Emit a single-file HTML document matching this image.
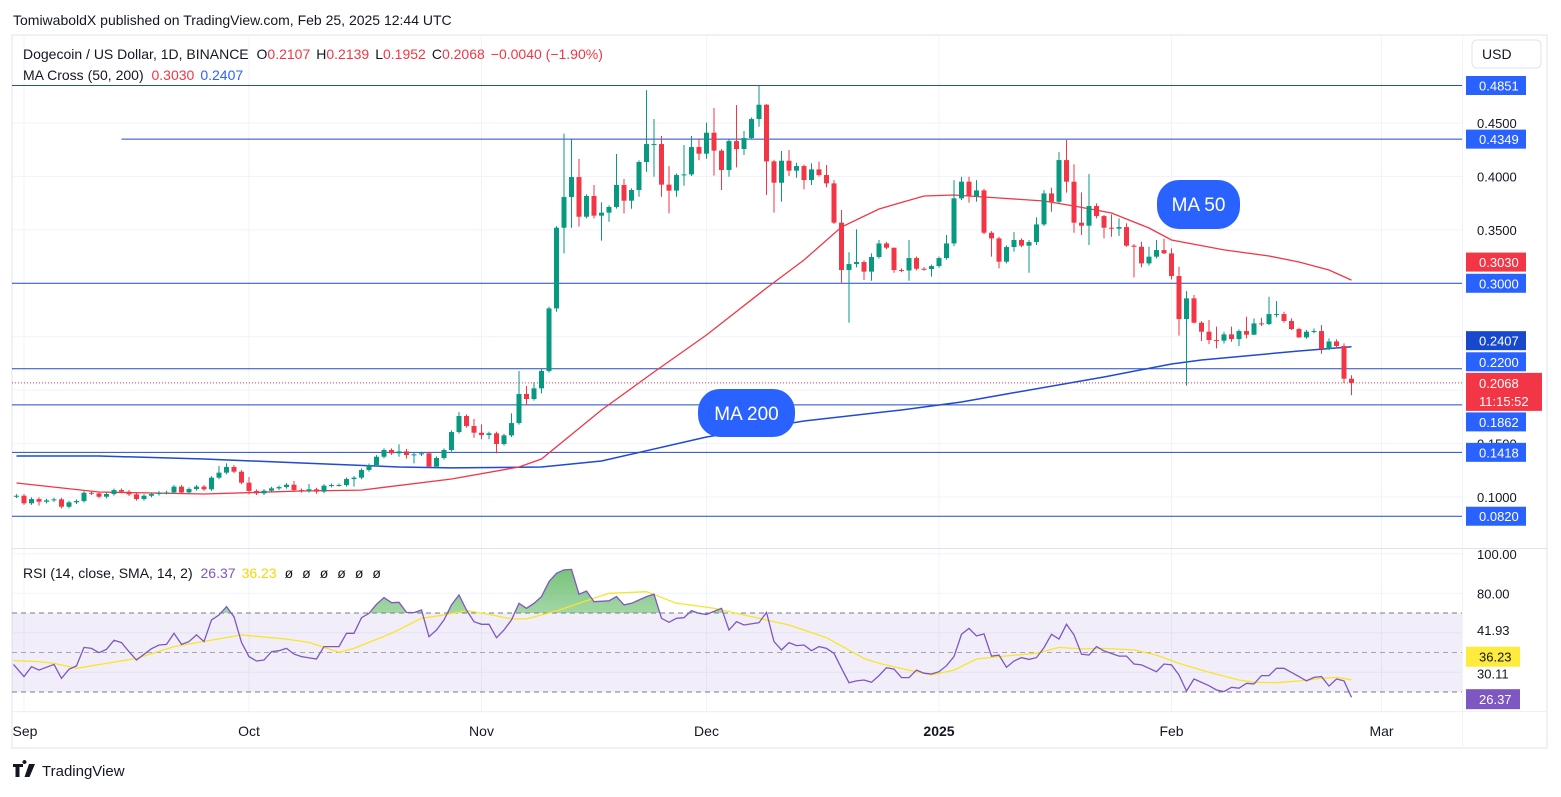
<!DOCTYPE html>
<html><head><meta charset="utf-8"><title>DOGEUSD TradingView chart</title>
<style>
html,body{margin:0;padding:0;background:#fff;}
body{width:1561px;height:792px;overflow:hidden;font-family:"Liberation Sans",sans-serif;}
svg text{font-family:"Liberation Sans","DejaVu Sans",sans-serif;}
</style></head>
<body>
<svg id="chart" width="1561" height="792" viewBox="0 0 1561 792" xmlns="http://www.w3.org/2000/svg">
  <defs>
    <clipPath id="mainClip"><rect x="12" y="36" width="1450" height="512"/></clipPath>
    <clipPath id="rsiClip"><rect x="12" y="549" width="1450" height="162"/></clipPath>
    <clipPath id="obClip"><rect x="12" y="549" width="1450" height="64"/></clipPath>
    <linearGradient id="obGrad" x1="0" y1="0" x2="0" y2="1">
      <stop offset="0" stop-color="#4caf50" stop-opacity="0.75"/>
      <stop offset="1" stop-color="#4caf50" stop-opacity="0.05"/>
    </linearGradient>
  </defs>
  <text x="13" y="25" font-size="14" fill="#131722">TomiwaboldX published on TradingView.com, Feb 25, 2025 12:44 UTC</text>
  <rect x="12" y="35" width="1535" height="713" fill="none" stroke="#e0e3eb" stroke-width="1"/>
  <g id="grid"></g>
  <g id="rsiBand"></g>
  <g id="hlines"></g>
  <g id="maLines" clip-path="url(#mainClip)"></g>
  <g id="candles" clip-path="url(#mainClip)"></g>
  <g id="rsiLines" clip-path="url(#rsiClip)"></g>
  <g id="axes"></g>

  <line x1="12" y1="548.5" x2="1547" y2="548.5" stroke="#e0e3eb"/>
  <line x1="12" y1="711.5" x2="1547" y2="711.5" stroke="#eef0f4"/>
  <line x1="1462.5" y1="35" x2="1462.5" y2="748" stroke="#f0f3fa"/>

  <text x="23" y="59" font-size="14" fill="#131722">Dogecoin / US Dollar, 1D, BINANCE <tspan dx="4">O</tspan><tspan fill="#f23645">0.2107</tspan><tspan dx="6">H</tspan><tspan fill="#f23645">0.2139</tspan><tspan dx="6">L</tspan><tspan fill="#f23645">0.1952</tspan><tspan dx="6">C</tspan><tspan fill="#f23645">0.2068</tspan><tspan dx="6" fill="#f23645">−0.0040 (−1.90%)</tspan></text>
  <text x="23" y="80" font-size="14" fill="#131722">MA Cross (50, 200) <tspan dx="4" fill="#f23645">0.3030</tspan><tspan dx="6" fill="#2962ff">0.2407</tspan></text>
  <text x="23" y="578" font-size="14" fill="#131722">RSI (14, close, SMA, 14, 2) <tspan dx="4" fill="#7e57c2">26.37</tspan><tspan dx="6" fill="#f5d800">36.23</tspan><tspan dx="8">ø</tspan><tspan dx="9">ø</tspan><tspan dx="9">ø</tspan><tspan dx="9">ø</tspan><tspan dx="9">ø</tspan><tspan dx="9">ø</tspan></text>

  <g>
    <rect x="1472" y="40" width="69" height="28" rx="5" fill="#fff" stroke="#e0e3eb"/>
    <text x="1482" y="59" font-size="14" fill="#131722">USD</text>
  </g>

  <g>
    <rect x="1157" y="180" width="83" height="49" rx="22" fill="#2962ff"/>
    <text x="1198.5" y="211" font-size="19" fill="#fff" text-anchor="middle">MA 50</text>
  </g>
  <g>
    <rect x="698" y="389" width="97" height="48" rx="22" fill="#2962ff"/>
    <text x="746.5" y="420" font-size="19" fill="#fff" text-anchor="middle">MA 200</text>
  </g>

  <g>
    <path d="M13 764 h10 v3 h-3.5 v10 h-4 v-10 h-2.5z M24.5 764 a2 2 0 1 1 0.01 0z M29 764 h6 l-5.5 13 h-5z" fill="#131722"/>
    <text x="42" y="776" font-size="15" fill="#131722">TradingView</text>
  </g>
</svg>
<script>
// ---------- data ----------
const firstDay = -1; // Aug 31, 2024 (day 0 = Sep 1)
const closes = [
.1012,.0941,.0981,.0956,.0969,.0978,.0909,.0950,.0962,.1040,
.1034,.1003,.1028,.1065,.1050,.1025,.0981,.1012,.1028,.1040,
.1043,.1097,.1043,.1075,.1097,.1072,.1181,.1228,.1281,.1237,
.1134,.1056,.1034,.1059,.1081,.1093,.1115,.1065,.1056,.1072,
.1050,.1106,.1112,.1112,.1168,.1181,.1253,.1299,.1377,.1440,
.1409,.1427,.1393,.1399,.1409,.1284,.1365,.1440,.1608,.1758,
.1664,.1602,.1580,.1596,.1496,.1577,.1692,.1964,.1917,.2017,
.2179,.2765,
.3520,.3807,.3994,.3623,.3817,.3633,.3661,.3714,.3920,.3773,
.3873,.4135,.4303,.4303,.3923,.3867,.4013,.4019,.4275,.4213,
.4409,.4241,.4060,.4331,.4256,.4359,.4537,.4671,.4141,.3941,
.4147,.4054,.4097,.3966,.4066,.4013,.3935,.3567,.3124,.3180,
.3199,.3109,.3246,
.3373,.3333,.3124,.3120,.3236,.3136,.3133,.3161,.3236,.3373,
.3795,.3951,.3816,.3869,.3473,.3420,.3202,.3339,.3405,.3352,
.3386,.3551,.3841,.3763,.4153,.3951,.3567,.3539,.3723,.3629,
.3520,.3511,.3526,.3352,.3342,.3186,.3249,.3311,.3280,.3068,
.2665,.2859,.2631,.2547,.2469,.2463,.2522,.2478,.2553,.2519,
.2625,.2619,.2712,.2712,.2647,.2572,.2494,.2547,.2553,.2385,
.2456,.2413,.2107,.2068];
const firstOpen = .1005;
const hiDays = [26,27,28,30,36,38,50,51,58,60,61,65,66,67,68,69,72,73,74,76,77,79,80,83,84,85,86,88,89,90,91,92,95,96,98,99,101,102,103,105,106,107,108,109,110,111,113,114,116,118,123,124,125,126,127,132,133,134,135,136,137,138,139,140,141,142,143,144,145,146,147,149,150,151,152,153,154,155,156,158,159,160,161,162,163,164,165,166,167,168,169,170,171,172,173,174,175,176,177];
const hiVals = [.1290,.1315,.1299,.1187,.1150,.1122,.1493,.1450,.1795,.1730,.1680,.1783,.2179,.2039,.2073,.2204,.4400,.4347,.4163,.3920,.3757,.4210,.3976,.4808,.4537,.4378,.4097,.4294,.4378,.4356,.4503,.4640,.4668,.4425,.4849,.4677,.4238,.4247,.4128,.4122,.4138,.4107,.3966,.3686,.3290,.3505,.3280,.3405,.3239,.3405,.3452,.3966,.3997,.3997,.3966,.3479,.3420,.3405,.3617,.3872,.3894,.4228,.4340,.4113,.3851,.4022,.3748,.3639,.3645,.3607,.3561,.3389,.3342,.3405,.3417,.3327,.3155,.2927,.2890,.2656,.2594,.2547,.2594,.2569,.2687,.2672,.2678,.2874,.2834,.2734,.2672,.2584,.2563,.2578,.2609,.2484,.2475,.2438,.2139];
const loDays = [2,5,30,32,39,44,50,51,52,54,60,61,62,63,67,69,71,72,73,74,76,77,78,80,81,82,83,84,85,86,87,88,90,91,92,93,94,95,96,98,99,100,101,102,103,104,105,107,108,109,110,111,112,113,116,118,121,124,126,127,129,130,131,132,134,135,137,138,139,140,141,142,143,144,145,146,147,148,149,150,151,152,153,154,155,156,157,158,159,160,161,162,163,164,165,166,167,168,169,170,171,172,173,174,175,176,177];
const loVals = [.0919,.0894,.1025,.1019,.1030,.1097,.1377,.1359,.1315,.1275,.1555,.1540,.1540,.1408,.1861,.1970,.2734,.3280,.3520,.3530,.3608,.3399,.3576,.3654,.3698,.3810,.4044,.3997,.3810,.3654,.3810,.3913,.4153,.4166,.4007,.3873,.3997,.4085,.4200,.4465,.3826,.3661,.3764,.4004,.3988,.3879,.3920,.3898,.3555,.2999,.2631,.3149,.3031,.3024,.3099,.3024,.3062,.3348,.3754,.3763,.3249,.3140,.3186,.3296,.3099,.3358,.3670,.3748,.3848,.3473,.3452,.3358,.3607,.3420,.3436,.3442,.3342,.3055,.3149,.3165,.3233,.3274,.3037,.2510,.2042,.2625,.2460,.2431,.2391,.2437,.2453,.2413,.2484,.2516,.2600,.2609,.2681,.2631,.2563,.2488,.2481,.2531,.2341,.2375,.2391,.2063,.1952];

const ma50Days = [-1,10,24,37,45,57,66,69,77,84,91,99,104,109,114,120,124,130,136,140,145,150,153,160,166,170,174,177];
const ma50Vals = [.1131,.1047,.1028,.1056,.1065,.1169,.1281,.1356,.1814,.2170,.2516,.2956,.3218,.3527,.3695,.3817,.3826,.3798,.3770,.3723,.3658,.3517,.3405,.3312,.3255,.3199,.3124,.3030];
const ma200Days = [-1,10,24,37,50,57,69,77,91,104,117,125,131,144,153,157,170,177];
const ma200Vals = [.1384,.1384,.1356,.1318,.1281,.1272,.1281,.1337,.1562,.1711,.1814,.1889,.1964,.2123,.2245,.2282,.2366,.2407];

const rsiDays = [-1.4,0,1,2,4,5,6,7,8,9,10,11,12,13,14,15,16,17,18,19,20,21,22,23,24,25,26,27,28,29,30,31,32,33,34,35,36,37,39,40,42,43,44,45,46,47,48,49,50,51,52,53,54,55,56,57,58,59,60,61,62,63,64,65,66,67,68,69,70,71,72,73,74,75,76,78,79,80,81,83,84,85,86,87,88,89,90,91,93,94,95,96,98,99,100,101,102,103,104,105,106,107,108,109,110,111,112,113,114,115,116,117,118,119,120,121,122,123,124,125,126,127,128,129,130,131,132,133,134,135,136,137,138,139,140,141,142,143,144,146,147,148,149,151,152,153,154,155,156,158,159,160,161,162,163,164,165,166,167,168,169,170,171,172,173,174,175,176,177];
const rsiVals = [44.0,37.8,42.8,41.1,44.0,36.9,41.5,43.2,52.6,52.1,49.9,51.6,56.2,55.0,50.4,46.2,49.1,51.9,53.8,54.1,59.7,54.1,55.5,58.9,55.5,66.5,69.0,73.2,68.1,55.1,47.9,45.7,46.2,50.4,50.9,52.1,49.2,47.9,46.7,53.0,53.0,59.7,59.7,67.6,69.8,74.4,77.8,75.2,75.4,70.3,70.2,71.5,58.0,61.4,66.5,74.1,79.1,71.5,65.6,64.3,64.3,57.5,61.4,66.5,74.9,72.4,74.9,78.3,85.9,90.1,91.8,92.1,79.5,81.1,75.7,76.2,78.3,74.1,74.9,78.3,79.5,67.3,65.3,67.3,67.6,71.2,69.8,69.3,72.4,61.4,65.6,63.9,65.1,70.3,55.5,51.3,55.0,53.5,53.8,50.9,53.0,52.1,49.6,42.0,34.7,35.6,36.1,34.9,38.3,42.3,41.6,37.3,37.3,41.1,39.5,39.1,40.3,43.3,47.9,59.2,62.2,58.4,59.4,48.2,48.7,42.5,45.7,47.4,46.5,47.4,52.5,59.2,56.8,64.3,58.9,49.2,48.7,53.0,50.8,48.2,48.2,44.2,43.7,40.3,44.2,43.7,38.6,30.5,36.6,33.2,31.0,30.2,32.4,31.9,34.4,34.1,38.3,38.3,42.0,42.0,39.9,37.8,35.6,37.4,37.8,33.0,36.6,35.6,27.3,26.4];
const smaDays = [-1.4,2,4,7,11,15,20,25,29,35,38,42,44,49,53,56,59,62,65,67,71,74,78,83,87,90,92,96,102,107,112,114,118,121,124,127,130,135,138,141,144,148,151,154,158,162,164,167,170,173,175,177];
const smaVals = [45.9,45.4,44.5,42.0,44.5,47.0,53.0,56.3,58.9,56.8,55.1,50.1,52.1,59.7,67.3,69.0,71.2,69.3,67.0,67.0,71.0,74.9,80.0,80.8,74.9,73.5,72.4,69.0,63.9,57.5,47.0,44.5,41.1,38.6,41.1,46.7,47.9,49.6,52.6,51.8,52.1,51.3,48.7,44.5,40.0,36.1,34.9,34.7,35.6,36.9,37.4,36.2];

const priceTicks = [0.45,0.40,0.35,0.30,0.25,0.20,0.15,0.10];
const priceTickLabels = ["0.4500","0.4000","0.3500","","","","0.1500","0.1000"];
const levelPrices = [0.4851,0.4349,0.3000,0.2200,0.1862,0.1418,0.0820];
const levelLabels = ["0.4851","0.4349","0.3000","0.2200","0.1862","0.1418","0.0820"];
const levelTagShift = [0,0,0,-7,17,0,0]; // label collision offsets (px) as on the axis
const levelStartDays = [-2,13,-2,-2,-2,-2,-2];
const monthDays = [0,30,61,91,122,153,181];
const monthLabels = ["Sep","Oct","Nov","Dec","2025","Feb","Mar"];
const rsiGridVals = [100,80,60,40,20];
const rsiAxisVals = [100,80,61.5,39.4];
const rsiAxisLabels = ["100.00","80.00","41.93","30.11"];
const rsiBands = [70,50,30];
const lastPrice = 0.2068, ma50Last = 0.3030, ma200Last = 0.2407;
const rsiLast = 26.37, smaLast = 36.23;

// ---------- scales ----------
const xOf = d => 24 + d*7.5;
const yOf = p => 123 + (0.45 - p)*1068.6;
const rY = v => 652.5 - (v - 50)*1.975;
const NS = "http://www.w3.org/2000/svg";
function mk(tag, attrs, parent){
  const e = document.createElementNS(NS, tag);
  for (const k in attrs) e.setAttribute(k, attrs[k]);
  parent.appendChild(e);
  return e;
}
const G = id => document.getElementById(id);

// grid
const grid = G('grid');
priceTicks.forEach(p=>{
  const l = mk('line',{x1:12,x2:1462,y1:yOf(p),y2:yOf(p),stroke:'#f0f3fa'},grid);
  
  
});
monthDays.forEach(d=>{
  const l = mk('line',{x1:xOf(d),x2:xOf(d),y1:36,y2:711,stroke:'#f0f3fa'},grid);
  
  
});
rsiGridVals.forEach(v=>{
  const l = mk('line',{x1:12,x2:1462,y1:rY(v),y2:rY(v),stroke:'#f0f3fa'},grid);
  
  
});

// RSI band
const band = G('rsiBand');
const bandRect = mk('rect',{x:12,y:rY(rsiBands[0]),width:1450,height:rY(rsiBands[2])-rY(rsiBands[0]),fill:'#7e57c2','fill-opacity':0.1},band);


rsiBands.forEach((v,i)=>{
  const l = mk('line',{x1:12,x2:1462,y1:rY(v),y2:rY(v),stroke:i===1?'#a8a3b8':'#787b86','stroke-dasharray':'5,4'},band);
  
  
});

// horizontal levels
const hl = G('hlines');
levelPrices.forEach((p,i)=>{
  const l = mk('line',{x1:Math.max(12,xOf(levelStartDays[i])),x2:1462,y1:yOf(p),y2:yOf(p),stroke:'#2449c9','stroke-width':1},hl);
  
  
});
const dl = mk('line',{x1:12,x2:1462,y1:yOf(lastPrice),y2:yOf(lastPrice),stroke:'#f23645','stroke-dasharray':'1,2'},hl);



// MAs
const path = (days, vals, f) => days.map((d,i)=>(i?'L':'M')+xOf(d).toFixed(1)+' '+f(vals[i]).toFixed(1)).join(' ');
const mal = G('maLines');
const m200 = mk('path',{d:path(ma200Days,ma200Vals,yOf),fill:'none',stroke:'#1f49d6','stroke-width':1.5},mal);


const m50 = mk('path',{d:path(ma50Days,ma50Vals,yOf),fill:'none',stroke:'#f23645','stroke-width':1.3},mal);



// candles
const cg = G('candles');
closes.forEach((c,i)=>{
  const d = firstDay + i;
  const o = i ? closes[i-1] : firstOpen;
  let hi = Math.max(o,c) + 0.0015, lo = Math.min(o,c) - 0.0015;
  const hIdx = hiDays.indexOf(d); if (hIdx>=0) hi = Math.max(hiVals[hIdx], Math.max(o,c));
  const lIdx = loDays.indexOf(d); if (lIdx>=0) lo = Math.min(loVals[lIdx], Math.min(o,c));
  const col = c >= o ? '#089981' : '#f23645';
  const x = xOf(d);
  const g = mk('g',{},cg);
  
  
  mk('line',{x1:x,x2:x,y1:yOf(hi),y2:yOf(lo),stroke:col,'stroke-width':1},g);
  const top = yOf(Math.max(o,c)), bot = yOf(Math.min(o,c));
  mk('rect',{x:x-2.5,y:top,width:5,height:Math.max(1,bot-top),fill:col},g);
});

// RSI
const rl = G('rsiLines');
const rsiPath = path(rsiDays,rsiVals,rY);
const area = mk('path',{d:rsiPath+` L${xOf(rsiDays[rsiDays.length-1])} ${rY(70)} L${xOf(rsiDays[0])} ${rY(70)} Z`,fill:'url(#obGrad)','clip-path':'url(#obClip)'},rl);


const sma = mk('path',{d:path(smaDays,smaVals,rY),fill:'none',stroke:'#f7e52a','stroke-width':1.3},rl);


const rsi = mk('path',{d:rsiPath,fill:'none',stroke:'#7e57c2','stroke-width':1.3},rl);



// axes
const ax = G('axes');
priceTicks.forEach((p,i)=>{
  if(!priceTickLabels[i]) return;
  const t = mk('text',{x:1477,y:yOf(p)+5,'font-size':13,fill:'#131722'},ax);
  t.textContent = priceTickLabels[i];
  
  
});
rsiAxisVals.forEach((v,i)=>{
  const t = mk('text',{x:1477,y:rY(v)+5,'font-size':13,fill:'#131722'},ax);
  t.textContent = rsiAxisLabels[i];
  
  
});
monthDays.forEach((d,i)=>{
  const t = mk('text',{x:Math.max(25,xOf(d)),y:736,'font-size':14,fill:'#131722','text-anchor':'middle','font-weight':monthLabels[i]==='2025'?'bold':'normal'},ax);
  t.textContent = monthLabels[i];
  
  
});
function tag(y, txt, bg, fg, name, w, h){
  const g = mk('g',{},ax);
  
  
  mk('rect',{x:1466,y:y-(h||19)/2,width:w||60,height:h||19,fill:bg},g);
  const t = mk('text',{x:1479,y:y+5,'font-size':13,fill:fg},g);
  t.textContent = txt;
  return g;
}
levelPrices.forEach((p,i)=> tag(yOf(p)+levelTagShift[i], levelLabels[i], '#2962ff', '#fff', 'level-price-tag'));
tag(yOf(ma50Last)-18, ma50Last.toFixed(4), '#f23645', '#fff', 'ma50-price-tag');
tag(yOf(ma200Last)-6, ma200Last.toFixed(4), '#1848cc', '#fff', 'ma200-price-tag');
const lp = mk('g',{},ax);


mk('rect',{x:1466,y:yOf(lastPrice)-10,width:76,height:38,fill:'#f23645'},lp);
const lpt = mk('text',{x:1479,y:yOf(lastPrice)+5,'font-size':13,fill:'#fff'},lp); lpt.textContent = lastPrice.toFixed(4);
const lpc = mk('text',{x:1479,y:yOf(lastPrice)+23,'font-size':13,fill:'#fff'},lp); lpc.textContent = '11:15:52';
tag(rY(smaLast)-23, smaLast.toFixed(2), '#ffeb3b', '#131722', 'rsi-sma-tag', 54, 20);
tag(rY(rsiLast), rsiLast.toFixed(2), '#7e57c2', '#fff', 'rsi-value-tag', 54, 20);
</script>
</body></html>
